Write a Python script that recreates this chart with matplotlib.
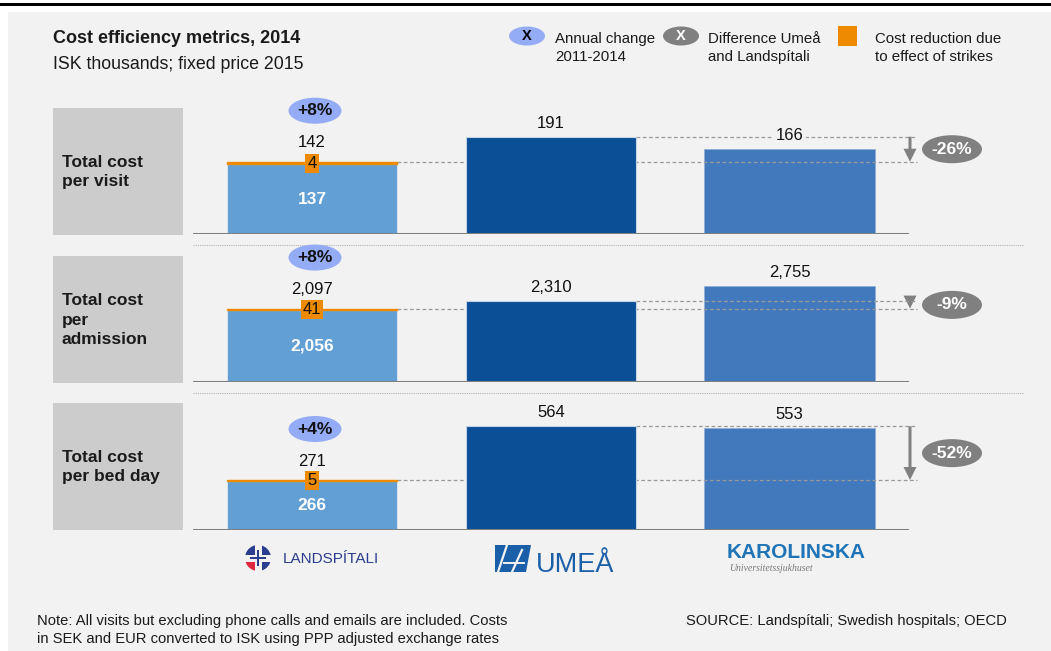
import numpy as np
import matplotlib.pyplot as plt
from matplotlib.patches import Rectangle, Ellipse, Wedge, Polygon, FancyArrow

plt.rcParams['font.family'] = ['Liberation Sans', 'DejaVu Sans']

# data (ISK thousands)
hospitals = ['Landspítali', 'Umeå', 'Karolinska']
metrics = ['Total cost\nper visit', 'Total cost\nper\nadmission', 'Total cost\nper bed day']
lsh_base = [137, 2056, 266]       # Landspítali without strike effect
strike = [4, 41, 5]               # cost reduction due to strikes
lsh_total = [142, 2097, 271]
umea = [191, 2310, 564]
karo = [166, 2755, 553]
annual_change = ['+8%', '+8%', '+4%']
diff_umea = ['-26%', '-9%', '-52%']

# colours
BG = '#f2f2f2'
C_LSH = '#629fd4'
C_UMEA = '#0b4f96'
C_KARO = '#4278bc'
C_ORANGE = '#ee8a00'
C_PILL = '#94acf6'
C_GREY = '#808080'

W, H = 1051, 651
fig = plt.figure(figsize=(W / 100, H / 100), dpi=100)
fig.patch.set_facecolor('white')

# background axes in pixel coordinates (y down)
bg = fig.add_axes([0, 0, 1, 1], zorder=0)
bg.set_xlim(0, W)
bg.set_ylim(H, 0)
bg.axis('off')
bg.add_patch(Rectangle((8, 12), W - 8, H - 12, fc=BG, ec='none'))
bg.add_patch(Rectangle((0, 2.5), W, 3.5, fc='black', ec='none'))

# title + legend
bg.text(53, 43, 'Cost efficiency metrics, 2014', fontsize=13, fontweight='bold', color='#1a1a1a', va='baseline')
bg.text(53, 69, 'ISK thousands; fixed price 2015', fontsize=12.8, color='#1a1a1a', va='baseline')

leg = dict(fontsize=10.8, va='baseline', color='#1a1a1a')
bg.add_patch(Ellipse((527, 36), 36, 19, fc=C_PILL, ec='none'))
bg.text(527, 36, 'X', fontsize=10.5, fontweight='bold', ha='center', va='center', color='black')
bg.text(555, 43, 'Annual change', **leg)
bg.text(555, 61, '2011-2014', **leg)
bg.add_patch(Ellipse((681, 36), 36, 19, fc=C_GREY, ec='none'))
bg.text(681, 36, 'X', fontsize=10.5, fontweight='bold', ha='center', va='center', color='white')
bg.text(708, 43, 'Difference Umeå', **leg)
bg.text(708, 61, 'and Landspítali', **leg)
bg.add_patch(Rectangle((838, 26), 19, 20, fc=C_ORANGE, ec='none'))
bg.text(875, 43, 'Cost reduction due', **leg)
bg.text(875, 61, 'to effect of strikes', **leg)

# panel layout
L, R = 192.6, 909.0
baselines = [234.2, 381.5, 529.7]
ytops = [254.7, 3738, 709]
panel_h = 130
box_tops = [108, 256, 403]
bw = 0.714
x_end = 2.533

def to_px(ax, x, y):
    d = ax.transData.transform((x, y))
    return d[0], H - d[1]

for i in range(3):
    # grey label box
    bg.add_patch(Rectangle((53, box_tops[i]), 130, 127, fc='#cccccc', ec='none'))
    bg.text(62, box_tops[i] + 64, metrics[i], fontsize=12.5, fontweight='bold',
            color='#1a1a1a', va='center', ha='left', linespacing=1.35)

    ax = fig.add_axes([L / W, (H - baselines[i]) / H, (R - L) / W, panel_h / H], zorder=1)
    ax.set_xlim(-0.5, 2.5)
    ax.set_ylim(0, ytops[i])
    ax.axis('off')
    ax.patch.set_alpha(0)

    ax.bar(0, lsh_base[i], width=bw, color=C_LSH, edgecolor='#d4e1ee', lw=0.8, zorder=3)
    ax.bar(0, strike[i], bottom=lsh_base[i], width=bw, color=C_ORANGE, edgecolor=C_ORANGE, lw=1.0, zorder=3)
    ax.bar(1, umea[i], width=bw, color=C_UMEA, edgecolor='#c5d3e3', lw=0.8, zorder=3)
    ax.bar(2, karo[i], width=bw, color=C_KARO, edgecolor='#8fb0d8', lw=0.6, zorder=2)
    ax.axhline(0, color=C_GREY, lw=2.2, zorder=4)

    # reference lines
    ax.plot([1 + bw / 2, x_end], [umea[i]] * 2, ls=(0, (3, 2)), color='#9a9a9a', lw=0.9,
            zorder=2.5, clip_on=False)
    ax.plot([bw / 2, x_end], [lsh_total[i]] * 2, ls=(0, (3, 2)), color='#9a9a9a', lw=0.9,
            zorder=2.5, clip_on=False)

    # value labels
    lab = dict(ha='center', va='center', fontsize=12, color='#111111', zorder=6,
               textcoords='offset points',
               bbox=dict(boxstyle='square,pad=0.15', fc=BG, ec='none'))
    ax.annotate(f'{lsh_total[i]:,}', xy=(0, lsh_total[i]), xytext=(0, 13.5), **lab)
    ax.annotate(f'{umea[i]:,}', xy=(1, umea[i]), xytext=(0, 9.8), **lab)
    ax.annotate(f'{karo[i]:,}', xy=(2, karo[i]), xytext=(0, 9.8), **lab)
    ax.text(0, lsh_base[i] / 2, f'{lsh_base[i]:,}', ha='center', va='center', fontsize=12.5,
            fontweight='bold', color='white', zorder=6)
    ax.text(0, lsh_base[i] + strike[i] / 2, f'{strike[i]}', ha='center', va='center', fontsize=12,
            color='#111111', zorder=6, bbox=dict(boxstyle='square,pad=0.12', fc=C_ORANGE, ec='none'))

    # annual change pill
    cx, cy = to_px(ax, 0, lsh_total[i])
    bg.add_patch(Ellipse((cx + 3, cy - 51), 53, 26, fc=C_PILL, ec='none', zorder=5))
    bg.text(cx + 3, cy - 51, annual_change[i], ha='center', va='center', fontsize=12.5,
            fontweight='bold', color='#111111', zorder=6)

    # difference arrow + pill
    _, y_hi = to_px(ax, 0, umea[i])
    _, y_lo = to_px(ax, 0, lsh_total[i])
    start = min(y_hi, y_lo - 13)
    bg.add_patch(FancyArrow(910, start, 0, y_lo - start, width=3, head_width=13, head_length=13,
                            length_includes_head=True, color=C_GREY, ec='none', zorder=5))
    mid = (y_hi + y_lo) / 2
    bg.add_patch(Ellipse((952, mid), 60, 28, fc=C_GREY, ec='none', zorder=5))
    bg.text(952, mid, diff_umea[i], ha='center', va='center', fontsize=12.5, fontweight='bold',
            color='white', zorder=6)

# dotted separators
for y in [245, 393]:
    bg.plot([193, 1023], [y, y], ls=(0, (1, 1)), color='#b4b4b4', lw=0.8)

# logos (simplified)
lx, ly, r = 258, 558, 13
bg.add_patch(Wedge((lx, ly), r, 90, 180, fc='#e0283c', ec='none'))
bg.add_patch(Wedge((lx, ly), r, 180, 450, fc='#2b3d8f', ec='none'))
bg.add_patch(Rectangle((lx - r, ly - 3.5), 2 * r, 7, fc=BG, ec='none'))
bg.add_patch(Rectangle((lx - 3.5, ly - r), 7, 2 * r, fc=BG, ec='none'))
bg.add_patch(Rectangle((lx - 8, ly - 1.2), 16, 2.4, fc='#2b3d8f', ec='none'))
bg.add_patch(Rectangle((lx - 1.2, ly - 8), 2.4, 16, fc='#2b3d8f', ec='none'))
bg.text(283, ly + 1, 'LANDSPÍTALI', fontsize=11, color='#2b3d8f', va='center')

bg.add_patch(Polygon([[495, 545], [531, 545], [526, 572], [495, 572]], closed=True, fc='#1a5fa8', ec='none'))
bg.plot([507, 498], [545, 572], color=BG, lw=1.6)
bg.plot([522, 512], [550, 572], color=BG, lw=1.6)
bg.plot([504, 524], [563, 563], color=BG, lw=1.4)
bg.text(536, 572, 'UMEÅ', fontsize=19.5, color='#1a5fa8', va='baseline')

bg.text(727, 558, 'KAROLINSKA', fontsize=15, fontweight='bold', color='#1f74b8', va='baseline')
bg.text(729, 571, 'Universitetssjukhuset', fontsize=7, style='italic', color='#7a7a7a',
        va='baseline', family=['Liberation Serif', 'DejaVu Serif'])

# footnotes
bg.text(37, 625, 'Note: All visits but excluding phone calls and emails are included. Costs',
        fontsize=10.6, color='#1a1a1a', va='baseline')
bg.text(37, 643, 'in SEK and EUR converted to ISK using PPP adjusted exchange rates',
        fontsize=10.6, color='#1a1a1a', va='baseline')
bg.text(686, 625, 'SOURCE: Landspítali; Swedish hospitals; OECD', fontsize=10.6, color='#1a1a1a',
        va='baseline')

fig.savefig('out.png', dpi=100, facecolor=fig.get_facecolor())
